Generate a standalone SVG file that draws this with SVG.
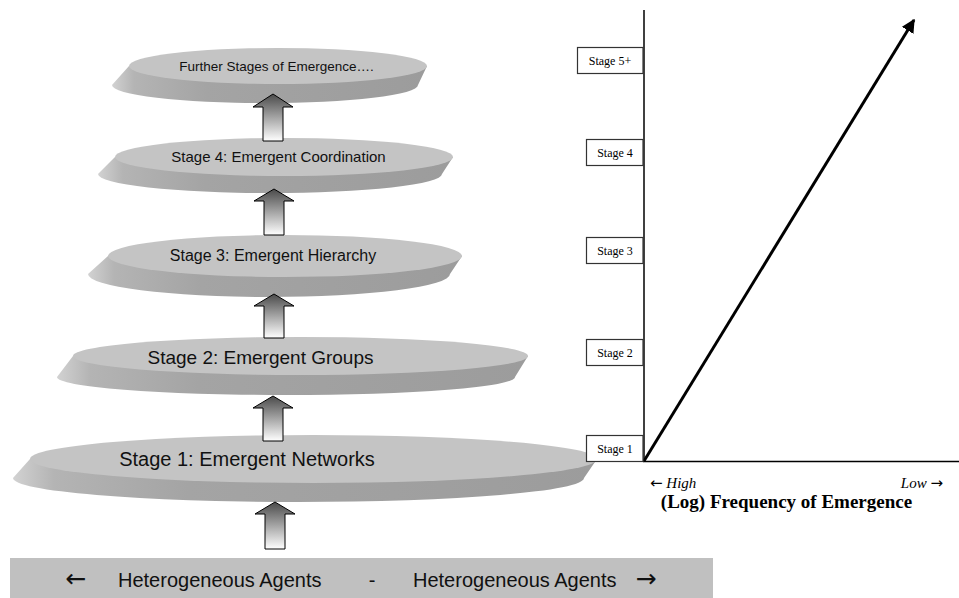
<svg xmlns="http://www.w3.org/2000/svg" width="959" height="598" viewBox="0 0 959 598">
<defs>
<linearGradient id="bevel" x1="0" y1="0" x2="1" y2="0">
<stop offset="0" stop-color="#d2d2d2"/>
<stop offset="0.07" stop-color="#b4b4b4"/>
<stop offset="0.3" stop-color="#a4a4a4"/>
<stop offset="1" stop-color="#9c9c9c"/>
</linearGradient>
<linearGradient id="arrowfill" x1="0" y1="0" x2="0" y2="1">
<stop offset="0" stop-color="#4a4a4a"/>
<stop offset="1" stop-color="#ffffff"/>
</linearGradient>
<marker id="head" viewBox="0 0 10 10" refX="9" refY="5" markerWidth="4.5" markerHeight="4.5" orient="auto" markerUnits="strokeWidth">
<path d="M0,0 L10,5 L0,10 Z" fill="#000"/>
</marker>
<style>
.top{fill:#c4c4c4;}
.bev{fill:url(#bevel);}
.dt{font-family:"Liberation Sans",Arial,sans-serif;fill:#111;text-anchor:middle;}
.arr{fill:url(#arrowfill);stroke:#000;stroke-width:1;}
.sbox{fill:#fff;stroke:#333;stroke-width:1.2;}
.st{font-family:"Liberation Serif","Times New Roman",serif;font-size:12px;fill:#000;text-anchor:middle;}
.axis{stroke:#000;stroke-width:1.5;fill:none;}
.ag{font-family:"DejaVu Sans",sans-serif;}
</style>
</defs>
<rect width="959" height="598" fill="#fff"/>

<g id="disk-stage5">
<path class="bev" d="M129,66 L112,85 A153,18 0 0 0 418,85 L427,66 Z"/>
<ellipse class="top" cx="278" cy="66" rx="149" ry="18"/>
<text class="dt" x="276.5" y="71" font-size="13.5">Further Stages of Emergence….</text>
</g>
<g id="disk-stage4">
<path class="bev" d="M115,157 L98,174 A172,19 0 0 0 442,174 L453,157 Z"/>
<ellipse class="top" cx="284" cy="157" rx="169" ry="19"/>
<text class="dt" x="278.5" y="162" font-size="15">Stage 4: Emergent Coordination</text>
</g>
<g id="disk-stage3">
<path class="bev" d="M108,256 L88,274 A181,23 0 0 0 450,274 L462,256 Z"/>
<ellipse class="top" cx="285" cy="256" rx="177" ry="21"/>
<text class="dt" x="273" y="261" font-size="16">Stage 3: Emergent Hierarchy</text>
</g>
<g id="disk-stage2">
<path class="bev" d="M73,356 L57,377 A229,18 0 0 0 515,377 L528,356 Z"/>
<ellipse class="top" cx="300.5" cy="356" rx="227.5" ry="19"/>
<text class="dt" x="260.5" y="364" font-size="19">Stage 2: Emergent Groups</text>
</g>
<g id="disk-stage1">
<path class="bev" d="M30,459 L13,478 A285.5,24 0 0 0 584,478 L597,459 Z"/>
<ellipse class="top" cx="313.5" cy="459" rx="283.5" ry="24"/>
<text class="dt" x="247" y="466" font-size="20">Stage 1: Emergent Networks</text>
</g>

<g id="agents-bar">
<rect x="10" y="558" width="703" height="42" fill="#c0c0c0"/>
<g font-family="&quot;Liberation Sans&quot;,Arial,sans-serif" font-size="20" fill="#111">
<text class="ag" x="76" y="587" text-anchor="middle" font-size="25">←</text>
<text x="118" y="587">Heterogeneous Agents</text>
<text x="372" y="587" text-anchor="middle">-</text>
<text x="413" y="587">Heterogeneous Agents</text>
<text class="ag" x="646" y="587" text-anchor="middle" font-size="25">→</text>
</g>
</g>

<g id="connectors">
<path class="arr" d="M275,502 L295,514 L285,514 L285,549 L265,549 L265,514 L255,514 Z"/>
<path class="arr" d="M273,396 L293,408 L283,408 L283,441 L263,441 L263,408 L253,408 Z"/>
<path class="arr" d="M274,294 L294,306 L284,306 L284,338 L264,338 L264,306 L254,306 Z"/>
<path class="arr" d="M274,189 L294,201 L284,201 L284,235 L264,235 L264,201 L254,201 Z"/>
<path class="arr" d="M273,94 L293,107 L283,107 L283,141 L263,141 L263,107 L253,107 Z"/>
</g>

<g id="chart">
<line class="axis" x1="644" y1="10" x2="644" y2="462"/>
<line class="axis" x1="643" y1="461.5" x2="959" y2="461.5"/>
<line x1="644" y1="461" x2="914" y2="20" stroke="#000" stroke-width="3" marker-end="url(#head)"/>
<text x="650" y="488" font-family="&quot;Liberation Serif&quot;,&quot;Times New Roman&quot;,serif" font-size="15" font-style="italic"><tspan class="ag" font-style="normal" font-size="15">←</tspan> High</text>
<text x="943" y="488" text-anchor="end" font-family="&quot;Liberation Serif&quot;,&quot;Times New Roman&quot;,serif" font-size="15" font-style="italic">Low <tspan class="ag" font-style="normal" font-size="15">→</tspan></text>
<text x="786.5" y="508" text-anchor="middle" font-family="&quot;Liberation Serif&quot;,&quot;Times New Roman&quot;,serif" font-size="19" font-weight="bold">(Log) Frequency of Emergence</text>
</g>

<g id="box-stage5"><rect class="sbox" x="577.5" y="47.5" width="65.5" height="26"/><text class="st" x="610" y="65">Stage 5+</text></g>
<g id="box-stage4"><rect class="sbox" x="586.5" y="139.5" width="56.5" height="26"/><text class="st" x="615" y="157">Stage 4</text></g>
<g id="box-stage3"><rect class="sbox" x="586.5" y="237.5" width="56.5" height="26"/><text class="st" x="615" y="255">Stage 3</text></g>
<g id="box-stage2"><rect class="sbox" x="586.5" y="339.5" width="56.5" height="26"/><text class="st" x="615" y="357">Stage 2</text></g>
<g id="box-stage1"><rect class="sbox" x="586.5" y="435.5" width="56.5" height="26"/><text class="st" x="615" y="453">Stage 1</text></g>
</svg>
